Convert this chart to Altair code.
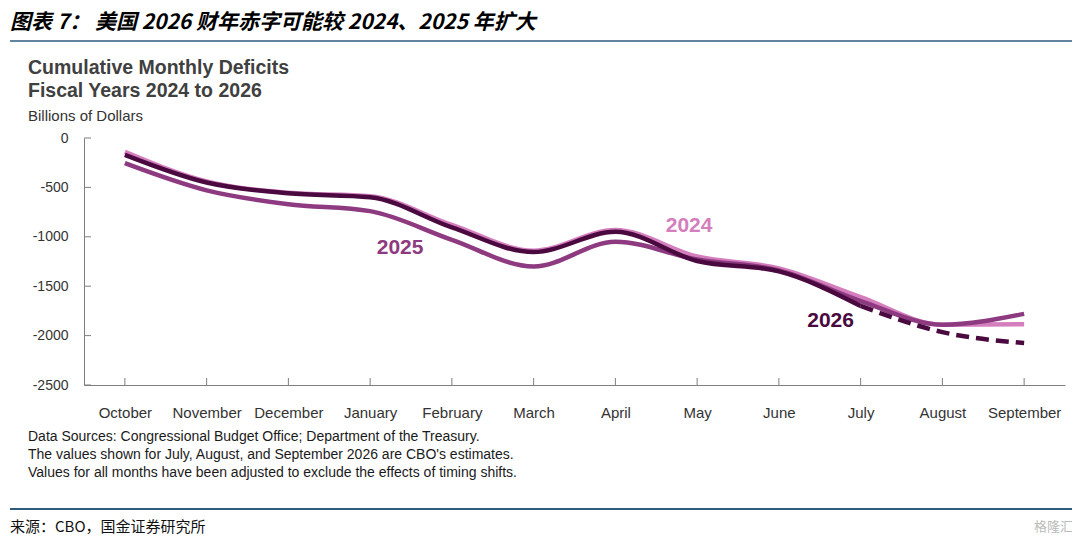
import altair as alt
import pandas as pd

months = ["October", "November", "December", "January", "February", "March",
          "April", "May", "June", "July", "August", "September"]
fy2024 = [-140, -440, -555, -590, -880, -1140, -930, -1200, -1320, -1610, -1890, -1885]
fy2025 = [-255, -530, -670, -740, -1030, -1300, -1050, -1230, -1340, -1650, -1890, -1780]
fy2026_actual = [-170, -450, -560, -600, -905, -1155, -950, -1245, -1350, -1700]
fy2026_estimate_months = ["July", "August", "September"]
fy2026_estimate = [-1700, -1965, -2075]
y_ticks = [0, -500, -1000, -1500, -2000, -2500]

series_labels = ["2024", "2025", "2026"]
label_months = ["May", "January", "July"]
label_values = [-891, -1113, -1852]
label_dx = [-8, 30, -30]

header = "图表 7： 美国 2026 财年赤字可能较 2024、2025 年扩大"
title_lines = ["Cumulative Monthly Deficits", "Fiscal Years 2024 to 2026"]
unit_text = "Billions of Dollars"
notes = ["Data Sources: Congressional Budget Office; Department of the Treasury.",
         "The values shown for July, August, and September 2026 are CBO's estimates.",
         "Values for all months have been adjusted to exclude the effects of timing shifts."]
source_text = "来源：CBO，国金证券研究所"

C24, C25, C26 = "#D57EBE", "#8E3A80", "#4A0A40"
W, H = 981, 247
FONT = "Liberation Sans"

rows = []
for m, v in zip(months, fy2024):
    rows.append({"month": m, "value": v, "series": "2024"})
for m, v in zip(months, fy2025):
    rows.append({"month": m, "value": v, "series": "2025"})
for m, v in zip(months[:len(fy2026_actual)], fy2026_actual):
    rows.append({"month": m, "value": v, "series": "2026"})
df = pd.DataFrame(rows)
df_est = pd.DataFrame({"month": fy2026_estimate_months, "value": fy2026_estimate})

xs = alt.Scale(type="point", domain=months, padding=0.5)
ys = alt.Scale(domain=[-2500, 0], nice=False, zero=False)

x_ax = alt.Axis(title=None, ticks=False, labelPadding=20, labelFontSize=15,
                labelColor="#333333", labelFont=FONT, domainColor="#7f7f7f",
                labelAngle=0, labelAlign="center", labelBaseline="top",
                labelOverlap=False, grid=False)
y_ax = alt.Axis(title=None, values=y_ticks, ticks=False, labelPadding=16,
                labelFontSize=14, labelColor="#333333", labelFont=FONT,
                labelExpr="'' + datum.value",
                domainColor="#7f7f7f", grid=False)

def X():
    return alt.X("month:N", scale=xs, sort=months, axis=x_ax)

def Y():
    return alt.Y("value:Q", scale=ys, axis=y_ax)

ytick_df = pd.DataFrame({"value": y_ticks})
yticks = alt.Chart(ytick_df).mark_rule(color="#7f7f7f", strokeWidth=1).encode(
    y=Y(), x=alt.value(0), x2=alt.value(7))
xtick_df = pd.DataFrame({"month": months})
xticks = alt.Chart(xtick_df).mark_rule(color="#7f7f7f", strokeWidth=1).encode(
    x=X(), y=alt.value(H - 7), y2=alt.value(H))

# draw in order 2024, 2025, 2026
line_layers = [
    alt.Chart(df[df.series == s]).mark_line(interpolate="monotone", strokeWidth=4.5, color=c).encode(
        x=X(), y=Y())
    for s, c in zip(series_labels, [C24, C25, C26])
]
est = alt.Chart(df_est).mark_line(interpolate="monotone", strokeWidth=4.5, color=C26,
                                  strokeDash=[13, 7], strokeCap="butt").encode(
    x=X(), y=Y())

lab_df = pd.DataFrame({"month": label_months, "value": label_values, "text": series_labels})
labels = []
for i, c in enumerate([C24, C25, C26]):
    labels.append(alt.Chart(lab_df.iloc[[i]]).mark_text(
        fontSize=21, fontWeight="bold", font=FONT, color=c, dx=label_dx[i], baseline="middle").encode(
        x=X(), y=Y(), text="text:N"))

def txt(t, x, y, size, color="#222222", weight="normal", font=FONT, style="normal"):
    return alt.Chart(pd.DataFrame({"t": [t]})).mark_text(
        align="left", baseline="middle", fontSize=size, fontWeight=weight, font=font,
        color=color, fontStyle=style).encode(x=alt.value(x), y=alt.value(y), text="t:N")

deco = [
    txt(header, -74, -115, 21, color="#000000", weight="bold", font="Noto Sans CJK SC", style="italic"),
    txt(title_lines[0], -56, -70, 19.5, color="#404040", weight="bold"),
    txt(title_lines[1], -56, -47, 19.5, color="#404040", weight="bold"),
    txt(unit_text, -56, -22, 15, color="#333333"),
    txt(notes[0], -56, 299, 14, color="#1a1a1a"),
    txt(notes[1], -56, 317, 14, color="#1a1a1a"),
    txt(notes[2], -56, 335, 14, color="#1a1a1a"),
    txt(source_text, -74, 389, 15, color="#111111", font="Noto Sans CJK SC"),
    txt("格隆汇", 950, 389, 13, color="#bbbbbb", font="Noto Sans CJK SC"),
]
rule_df = pd.DataFrame({"a": [0]})
hline1 = alt.Chart(rule_df).mark_rule(color="#2E5C7E", strokeWidth=1.5).encode(
    x=alt.value(-74), x2=alt.value(988), y=alt.value(-97))
hline2 = alt.Chart(rule_df).mark_rule(color="#2E5C7E", strokeWidth=2).encode(
    x=alt.value(-74), x2=alt.value(988), y=alt.value(371))

chart = alt.layer(
    yticks, xticks, *line_layers, est, *labels, hline1, hline2, *deco
).properties(
    width=W, height=H,
    autosize=alt.AutoSizeParams(type="none"),
    padding={"left": 76, "top": 130, "right": 7, "bottom": 150},
).configure_view(stroke=None).configure_axis(domainWidth=1)

chart.save("out.html", embed_options={"renderer": "svg", "actions": False})
